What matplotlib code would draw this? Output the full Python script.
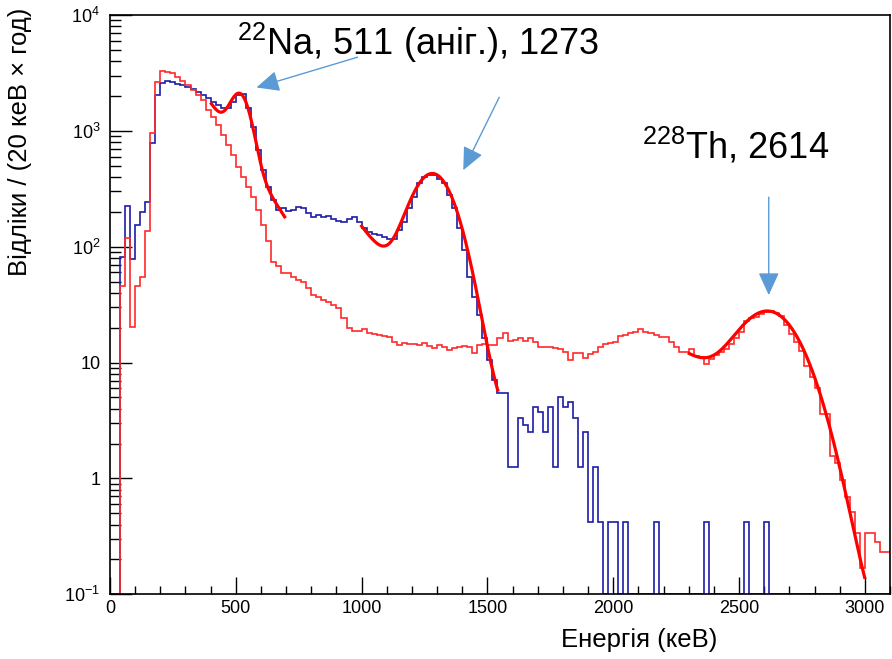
import math
import numpy as np
import matplotlib
matplotlib.use("Agg")
import matplotlib.pyplot as plt
from matplotlib.ticker import FixedLocator, FixedFormatter, MultipleLocator, LogLocator, NullFormatter

plt.rcParams['font.family'] = ['Liberation Sans', 'DejaVu Sans']
plt.rcParams['mathtext.fontset'] = 'custom'
plt.rcParams['mathtext.rm'] = 'Liberation Sans'

# 20 keV bins, 0 .. 3100 keV
bin_edges = np.arange(0, 3101, 20)

# two spectra, counts / (20 keV x h)
na22_counts = [
    0, 0, 81.8, 224, 78.2, 154, 200, 244,
    788, 2032, 2580, 2701, 2648, 2564, 2479, 2396, 2276, 2145,
    2032, 1904, 1779, 1666, 1561, 1561, 1779, 2032, 2062, 1561,
    1083, 681, 458, 329, 252, 207, 214, 204, 207, 221,
    214, 194, 181, 187, 181, 184, 175, 167, 164, 175,
    179, 164, 144, 134, 130, 126, 121, 116, 116, 139,
    164, 214, 270, 352, 401, 415, 415, 388, 352, 279,
    214, 144, 93.5, 55.0, 37.0, 25.7, 16.2, 10.5, 7.08, 5.42,
    5.42, 1.25, 1.25, 3.33, 2.92, 2.5, 4.17, 3.75, 2.5, 4.17,
    1.25, 5.0, 4.17, 4.58, 3.33, 1.25, 2.5, 0.417, 1.25, 0.417,
    0, 0.417, 0.417, 0, 0.417, 0, 0, 0, 0, 0,
    0.417, 0, 0, 0, 0, 0, 0, 0, 0, 0,
    0.417, 0, 0, 0, 0, 0, 0, 0, 0.417, 0,
    0, 0, 0.417, 0, 0, 0, 0, 0, 0, 0,
    0, 0, 0, 0, 0, 0, 0, 0, 0, 0,
    0, 0, 0, 0, 0, 0, 0,
]

th228_counts = [
    0, 0, 45.7, 118, 20.1, 45.7, 55.0, 137,
    961, 2616, 3274, 3229, 3128, 2924, 2701, 2479, 2245, 2032,
    1840, 1509, 1321, 1120, 918, 753, 617, 489, 401, 329,
    270, 207, 154, 112, 73.6, 68.0, 58.8, 59.5, 55.0, 51.5,
    49.8, 43.7, 38.2, 37.0, 34.6, 33.5, 31.3, 29.3, 24.4, 19.7,
    18.8, 18.7, 19.3, 17.9, 17.6, 17.3, 16.9, 16.5, 15.1, 14.2,
    14.8, 14.4, 14.6, 14.2, 14.8, 13.9, 13.3, 14.2, 13.5, 12.8,
    13.3, 13.5, 13.9, 13.7, 12.1, 14.2, 14.4, 14.2, 14.2, 16.3,
    18.0, 15.4, 15.6, 16.3, 15.4, 16.3, 15.1, 13.7, 13.5, 13.5,
    13.3, 13.1, 12.4, 10.5, 12.1, 12.1, 10.9, 11.8, 12.4, 13.7,
    14.6, 14.8, 15.1, 16.9, 17.3, 17.9, 18.4, 19.3, 18.4, 17.9,
    17.3, 16.5, 16.6, 15.1, 13.7, 12.4, 12.4, 13.0, 11.4, 11.1,
    9.7, 10.7, 11.6, 12.3, 13.1, 14.4, 16.3, 18.3, 22.8, 24.2,
    24.7, 26.2, 27.3, 27.8, 26.7, 25.2, 21.1, 17.6, 15.0, 12.6,
    9.3, 7.5, 6.0, 3.6, 3.6, 1.56, 1.36, 0.97, 0.69, 0.51,
    0.34, 0.17, 0.34, 0.34, 0.28, 0.23, 0.23,
]

# fit results: gaus(A, mean, sigma) + expo background (b0 at e0, slope tau)
# (range_lo, range_hi, A, mean, sigma, b0, e0, tau, step, const)
fits = [
    (403, 694, 1400, 518, 38, 1700, 403, 130, False, 0.0),
    (1000, 1541, 406, 1283, 78, 150, 1000, 150, False, 0.0),
    (2302, 2999, 25.9, 2622, 112, 11.6, 2300, 280, True, 0.05),
]

erfc = np.vectorize(math.erfc)


def fit_func(E, A, m, s, b0, e0, tau, step, c):
    g = A * np.exp(-0.5 * ((E - m) / s) ** 2)
    b = b0 * np.exp(-(E - e0) / tau)
    if step:
        b = b * 0.5 * erfc((E - m) / (s * math.sqrt(2)))
    return g + b + c


ymin, ymax = 0.1, 1e4

fig = plt.figure(figsize=(8.92, 6.59), dpi=100)
ax = fig.add_axes([0.1233, 0.0982, 0.8745, 0.879])

na = np.array(na22_counts, dtype=float)
th = np.array(th228_counts, dtype=float)
# empty bins sit on the frame like in ROOT
ax.stairs(np.where(na > 0, na, ymin), bin_edges, color='#1c1ca8', lw=1.2, baseline=None, zorder=3)
ax.stairs(np.where(th > 0, th, ymin), bin_edges, color='#ff2a2a', lw=1.2, baseline=None, zorder=4)

for lo, hi, A, m, s, b0, e0, tau, step, c in fits:
    E = np.linspace(lo, hi, 400)
    ax.plot(E, fit_func(E, A, m, s, b0, e0, tau, step, c), color='#ff0000', lw=2.3, zorder=5)

ax.set_yscale('log')
ax.set_xlim(0, 3100)
ax.set_ylim(ymin, ymax)

ax.xaxis.set_major_locator(MultipleLocator(500))
ax.xaxis.set_minor_locator(MultipleLocator(100))
ax.yaxis.set_major_locator(FixedLocator([0.1, 1, 10, 100, 1000, 10000]))
ax.yaxis.set_major_formatter(FixedFormatter([r'$\mathregular{10^{-1}}$', '1', '10',
                                             r'$\mathregular{10^{2}}$', r'$\mathregular{10^{3}}$',
                                             r'$\mathregular{10^{4}}$']))
ax.yaxis.set_minor_locator(LogLocator(base=10, subs=np.arange(2, 10), numticks=20))
ax.yaxis.set_minor_formatter(NullFormatter())

ax.tick_params(which='both', direction='in', width=1.0, colors='black', labelsize=13)
ax.tick_params(axis='x', which='major', length=12, pad=4)
ax.tick_params(axis='x', which='minor', length=6)
ax.tick_params(axis='y', which='major', length=16, pad=7)
ax.tick_params(axis='y', which='minor', length=8)
for sp in ax.spines.values():
    sp.set_linewidth(1.2)
    sp.set_zorder(6)

fig.text(20 / 892, 1 - 8 / 659, 'Відліки / (20 кеВ × год)', rotation=90,
         ha='center', va='top', fontsize=18.5)
fig.text(639 / 892, 1 - 640 / 659, 'Енергія (кеВ)', ha='center', va='center', fontsize=18.5)

ax.text(504, 4500, r'$\mathregular{^{22}}$Na, 511 (аніг.), 1273', fontsize=26,
        ha='left', va='baseline')
ax.text(2114, 581, r'$\mathregular{^{228}}$Th, 2614', fontsize=26,
        ha='left', va='baseline')

arrow_kw = dict(arrowstyle='-|>,head_length=0.7,head_width=0.32', color='#5b9bd5',
                lw=1.0, mutation_scale=20, shrinkA=0, shrinkB=0)
ax.annotate('', xy=(582, 2368), xytext=(984, 4325), arrowprops=arrow_kw)
ax.annotate('', xy=(1404, 458), xytext=(1547, 1953), arrowprops=arrow_kw)
ax.annotate('', xy=(2618, 38.2), xytext=(2618, 268), arrowprops=arrow_kw)

fig.savefig('out.png', dpi=100)
